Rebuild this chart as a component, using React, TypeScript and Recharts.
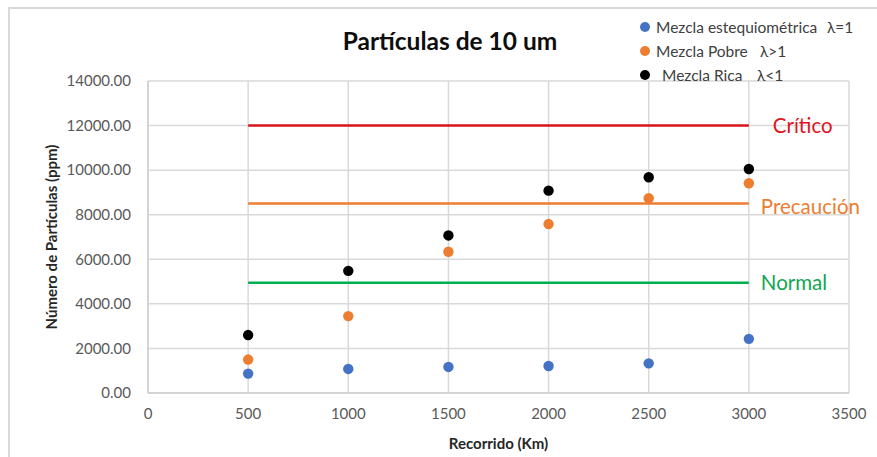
import React from 'react';
import {
  ScatterChart,
  Scatter,
  XAxis,
  YAxis,
  CartesianGrid,
  ReferenceLine,
} from 'recharts';

// Recorrido (Km) de cada medición
const distances = [500, 1000, 1500, 2000, 2500, 3000];

// Partículas (ppm) por tipo de mezcla
const stoichiometric = [870, 1080, 1170, 1210, 1330, 2430];
const lean = [1500, 3450, 6340, 7580, 8740, 9410];
const rich = [2600, 5480, 7070, 9080, 9680, 10050];

// Umbrales horizontales
const thresholdNames = ['Crítico', 'Precaución', 'Normal'];
const thresholdValues = [12000, 8500, 4950];
const thresholdStart = 500;
const thresholdEnd = 3000;

const xTicks = [0, 500, 1000, 1500, 2000, 2500, 3000, 3500];
const yTicks = [0, 2000, 4000, 6000, 8000, 10000, 12000, 14000];

const legendNames = ['Mezcla estequiométrica', 'Mezcla Pobre', 'Mezcla Rica'];
const legendLambdas = ['λ=1', 'λ>1', 'λ<1'];

const BLUE = '#4472c4';
const ORANGE = '#ed7d31';
const BLACK = '#000000';
const SERIES_COLORS = [BLUE, ORANGE, BLACK];
const THRESHOLD_COLORS = ['#d9141c', '#ed7d31', '#00b050'];
const THRESHOLD_TEXT = ['#e0141e', '#ed7d31', '#10a653'];
const LABEL_OFFSETS = [24, 12, 12];
const FONT = 'Lato, "Open Sans", sans-serif';

const toPoints = (values: number[]) =>
  distances.map((d, i) => ({ x: d, y: values[i] }));

const seriesData = [toPoints(stoichiometric), toPoints(lean), toPoints(rich)];

const dot = (color: string) => (props: any) => (
  <circle cx={props.cx} cy={props.cy} r={5.2} fill={color} />
);

const YTitle = ({ viewBox }: any) => {
  const cx = viewBox.x + 51;
  const cy = viewBox.y + viewBox.height / 2;
  return (
    <text
      x={cx}
      y={cy}
      transform={`rotate(-90 ${cx} ${cy})`}
      textAnchor="middle"
      dominantBaseline="central"
      fontFamily={FONT}
      fontWeight={700}
      fontSize={15}
      fill="#262626"
    >
      Número de Partículas (ppm)
    </text>
  );
};

const XTitle = ({ viewBox }: any) => (
  <text
    x={viewBox.x + viewBox.width / 2}
    y={449}
    textAnchor="middle"
    fontFamily={FONT}
    fontWeight={700}
    fontSize={15}
    fill="#262626"
  >
    Recorrido (Km)
  </text>
);

const legendRows = [27, 51, 75];
const legendTextX = [656, 656, 662];
const legendLambdaX = [827, 760, 757];

export default function App() {
  return (
    <div
      style={{
        position: 'absolute',
        left: 0,
        top: 0,
        width: 877,
        height: 457,
        background: '#fff',
        fontFamily: FONT,
        overflow: 'hidden',
      }}
    >
      <div
        style={{
          position: 'absolute',
          left: 8,
          top: 7,
          right: -4,
          bottom: -4,
          borderTop: '2px solid #d9d9d9',
          borderLeft: '2px solid #d9d9d9',
        }}
      />
      <ScatterChart
        width={877}
        height={457}
        margin={{ top: 81, right: 28, bottom: 24, left: 0 }}
        style={{ position: 'absolute', left: 0, top: 0 }}
      >
        <CartesianGrid stroke="#d9d9d9" strokeWidth={1.5} />
        <XAxis
          type="number"
          dataKey="x"
          domain={[0, 3500]}
          ticks={xTicks}
          height={40}
          tickLine={false}
          tickMargin={9}
          axisLine={{ stroke: '#cfcfcf', strokeWidth: 1.5 }}
          tick={{ fill: '#595959', fontSize: 15, fontFamily: FONT }}
          label={{ content: XTitle }}
        />
        <YAxis
          type="number"
          dataKey="y"
          domain={[0, 14000]}
          ticks={yTicks}
          width={148}
          tickLine={false}
          tickMargin={11}
          axisLine={{ stroke: '#cfcfcf', strokeWidth: 1.5 }}
          tickFormatter={(v: number) => v.toFixed(2)}
          tick={{ fill: '#595959', fontSize: 15, fontFamily: FONT }}
          label={{ content: YTitle }}
        />
        {thresholdValues.map((value, i) => (
          <ReferenceLine
            key={thresholdNames[i]}
            segment={[
              { x: thresholdStart, y: value },
              { x: thresholdEnd, y: value },
            ]}
            stroke={THRESHOLD_COLORS[i]}
            strokeWidth={2.5}
            label={{
              value: thresholdNames[i],
              position: 'right',
              offset: LABEL_OFFSETS[i],
              fill: THRESHOLD_TEXT[i],
              fontSize: 20.5,
              fontFamily: FONT,
              dy: i === 1 ? 3 : 0,
            }}
          />
        ))}
        {seriesData.map((data, i) => (
          <Scatter
            key={legendNames[i]}
            name={legendNames[i]}
            data={data}
            fill={SERIES_COLORS[i]}
            shape={dot(SERIES_COLORS[i])}
            isAnimationActive={false}
          />
        ))}
      </ScatterChart>
      <div
        style={{
          position: 'absolute',
          left: 450,
          top: 28,
          transform: 'translateX(-50%)',
          fontSize: 24.5,
          lineHeight: '26px',
          fontWeight: 700,
          color: '#0d0d0d',
          whiteSpace: 'nowrap',
        }}
      >
        Partículas de 10 um
      </div>
      {legendNames.map((name, i) => (
        <React.Fragment key={name}>
          <div
            style={{
              position: 'absolute',
              left: 645 - 5,
              top: legendRows[i] - 5,
              width: 10,
              height: 10,
              borderRadius: '50%',
              background: SERIES_COLORS[i],
            }}
          />
          <div
            style={{
              position: 'absolute',
              left: legendTextX[i],
              top: legendRows[i] - 10,
              fontSize: 15.5,
              lineHeight: '20px',
              color: '#404040',
              whiteSpace: 'nowrap',
            }}
          >
            {name}
          </div>
          <div
            style={{
              position: 'absolute',
              left: legendLambdaX[i],
              top: legendRows[i] - 10,
              fontSize: 15.5,
              lineHeight: '20px',
              color: '#404040',
              whiteSpace: 'nowrap',
            }}
          >
            {legendLambdas[i]}
          </div>
        </React.Fragment>
      ))}
    </div>
  );
}
